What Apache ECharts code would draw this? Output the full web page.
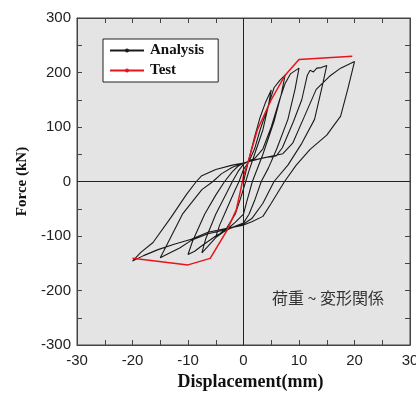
<!DOCTYPE html>
<html><head><meta charset="utf-8">
<script src="https://cdn.jsdelivr.net/npm/echarts@6/dist/echarts.min.js"></script>
<style>html,body{margin:0;padding:0;background:#fff}#c{width:416px;height:395px}</style>
</head><body><div id="c"></div>
<script>
// Test curve (red)
var testX = [-20, -10, -6, -3, -1.3, -0.5, 0, 1, 2.5, 5, 7.5, 10, 19.6];
var testY = [-141, -153, -141, -90, -52, -15, 10, 42, 95, 150, 195, 224, 230];

// Analysis hysteresis path (black)
var anaX = [0, 1, 2, 3, 4, 5,
  4.5, 3.5, 2, 1, 0.4, -0.5, -1.5, -3, -5,
  -4.3, -3, -1.5, -0.8, 0, 1, 2, 3, 4.5, 5.5, 6.5, 7.5,
  6.8, 5.5, 3.5, 1.6, 0.5, 0, -1.5, -3, -5, -6.5, -7.5,
  -6.8, -5, -3, -2, -1, 0, 1, 2, 3.5, 5, 6.5, 7.5, 8.5, 10,
  9.3, 8, 6, 4.5, 3.2, 2, 1, 0, -2, -5, -7.5, -8.8, -10,
  -9.2, -7, -5, -3.4, -2, -1, 0, 2, 4, 5.9, 7, 9, 10.5, 11.5, 12, 12.6, 13.2, 14, 15,
  14.3, 12.8, 10.5, 8, 5.5, 3.5, 1.5, 0, -3, -6.4, -9.4, -11.5, -13.5, -15,
  -14, -11, -7.5, -5.5, -4, -2, 0, 3, 7.1, 8.9, 11, 13.1, 15.5, 17.5, 20,
  18.8, 17.5, 15, 12, 9.5, 7.4, 5, 3.5, 1.5, 0, -3, -6.4, -9.4, -12.5, -15.4, -18, -20,
  -18.5, -16.3, -13, -10.3, -8.5, -7.6, -5, -2, 0];
var anaY = [0, 42, 82, 118, 146, 168,
  140, 95, 50, 20, 0, -30, -60, -85, -102,
  -80, -50, -15, 0, 22, 37, 60, 95, 140, 172, 185, 195,
  160, 110, 50, 0, -40, -60, -75, -88, -103, -120, -131,
  -105, -60, -20, 0, 18, 32, 38, 42, 60, 100, 150, 180, 198, 208,
  170, 114, 60, 25, 0, -35, -60, -76, -84, -100, -118, -128, -134,
  -110, -60, -25, 0, 18, 28, 34, 40, 44, 47, 62, 110, 150, 195, 204, 201, 208, 209, 213,
  180, 114, 70, 30, 0, -40, -68, -78, -88, -96, -108, -122, -132, -140,
  -120, -60, -15, 0, 14, 26, 34, 42, 51, 71, 120, 169, 193, 208, 220,
  170, 120, 85, 59, 30, 0, -40, -64, -74, -80, -86, -93, -106, -115, -125, -136, -146,
  -130, -112, -65, -24, 0, 10, 22, 30, 34];

var xTicks = [-30, -20, -10, 0, 10, 20, 30];
var yTicks = [-300, -200, -100, 0, 100, 200, 300];

function pairs(xs, ys) { return xs.map(function (x, i) { return [x, ys[i]]; }); }

var chart = echarts.init(document.getElementById('c'), null, {renderer: 'canvas'});
var axisCol = '#444';
var lblFont = {fontFamily: 'Liberation Sans', fontSize: 15, color: '#222'};
function xLbl(v) { return xTicks.indexOf(v) >= 0 ? String(v) : ''; }
function yLbl(v) { return yTicks.indexOf(v) >= 0 ? String(v) : ''; }
chart.setOption({
  animation: false,
  grid: {left: 77, right: 6, top: 18, bottom: 50, outerBoundsMode: 'none', containLabel: false,
    show: true, backgroundColor: '#e4e4e4', borderColor: axisCol, borderWidth: 1},
  legend: {
    left: 103, top: 39, orient: 'vertical', itemWidth: 34, itemHeight: 5, itemGap: 5,
    padding: [4, 14, 4, 6], backgroundColor: '#fff', borderColor: '#222', borderWidth: 1,
    textStyle: {fontFamily: 'Liberation Serif', fontWeight: 'bold', fontSize: 15, color: '#111', padding: [0, 0, 0, 1]},
    data: ['Analysis', 'Test']
  },
  xAxis: [{
    type: 'value', min: -30, max: 30, interval: 5, position: 'bottom',
    name: 'Displacement(mm)', nameLocation: 'middle', nameGap: 28,
    nameTextStyle: {fontFamily: 'Liberation Serif', fontWeight: 'bold', fontSize: 18, color: '#111', padding: [0, 0, 0, 14]},
    axisLine: {onZero: false, lineStyle: {color: axisCol}},
    axisTick: {inside: true, length: 5, lineStyle: {color: axisCol}},
    axisLabel: Object.assign({formatter: xLbl, margin: 8}, lblFont),
    splitLine: {show: false}
  }, {
    type: 'value', min: -30, max: 30, interval: 5, position: 'top',
    axisLine: {onZero: false, lineStyle: {color: axisCol}},
    axisTick: {inside: true, length: 5, lineStyle: {color: axisCol}},
    axisLabel: {show: false}, splitLine: {show: false}
  }],
  yAxis: [{
    type: 'value', min: -300, max: 300, interval: 50, position: 'left',
    name: 'Force (kN)', nameLocation: 'middle', nameGap: 40,
    nameTextStyle: {fontFamily: 'Liberation Serif', fontWeight: 'bold', fontSize: 15, color: '#111'},
    axisLine: {onZero: false, lineStyle: {color: axisCol}},
    axisTick: {inside: true, length: 5, lineStyle: {color: axisCol}},
    axisLabel: Object.assign({formatter: yLbl, margin: 6}, lblFont),
    splitLine: {show: false}
  }, {
    type: 'value', min: -300, max: 300, interval: 50, position: 'right',
    axisLine: {onZero: false, lineStyle: {color: axisCol}},
    axisTick: {inside: true, length: 5, lineStyle: {color: axisCol}},
    axisLabel: {show: false}, splitLine: {show: false}
  }],
  graphic: [{
    type: 'text', left: 272, top: 290,
    style: {text: '荷重 ~ 変形関係', fontFamily: 'Noto Sans CJK JP', fontSize: 16, fill: '#333'}
  }],
  series: [{
    name: 'Analysis', type: 'line', data: pairs(anaX, anaY), symbol: 'circle', symbolSize: 3, showSymbol: false,
    lineStyle: {color: '#1a1a1a', width: 1.1}, itemStyle: {color: '#1a1a1a'}, z: 3,
    markLine: {
      silent: true, symbol: 'none', label: {show: false},
      lineStyle: {color: '#222', width: 1, type: 'solid'},
      data: [{xAxis: 0}, {yAxis: 0}]
    }
  }, {
    name: 'Test', type: 'line', data: pairs(testX, testY), symbol: 'circle', symbolSize: 2, showSymbol: false,
    lineStyle: {color: '#e8141c', width: 1.5}, itemStyle: {color: '#e8141c'}, z: 4
  }]
});
</script></body></html>
